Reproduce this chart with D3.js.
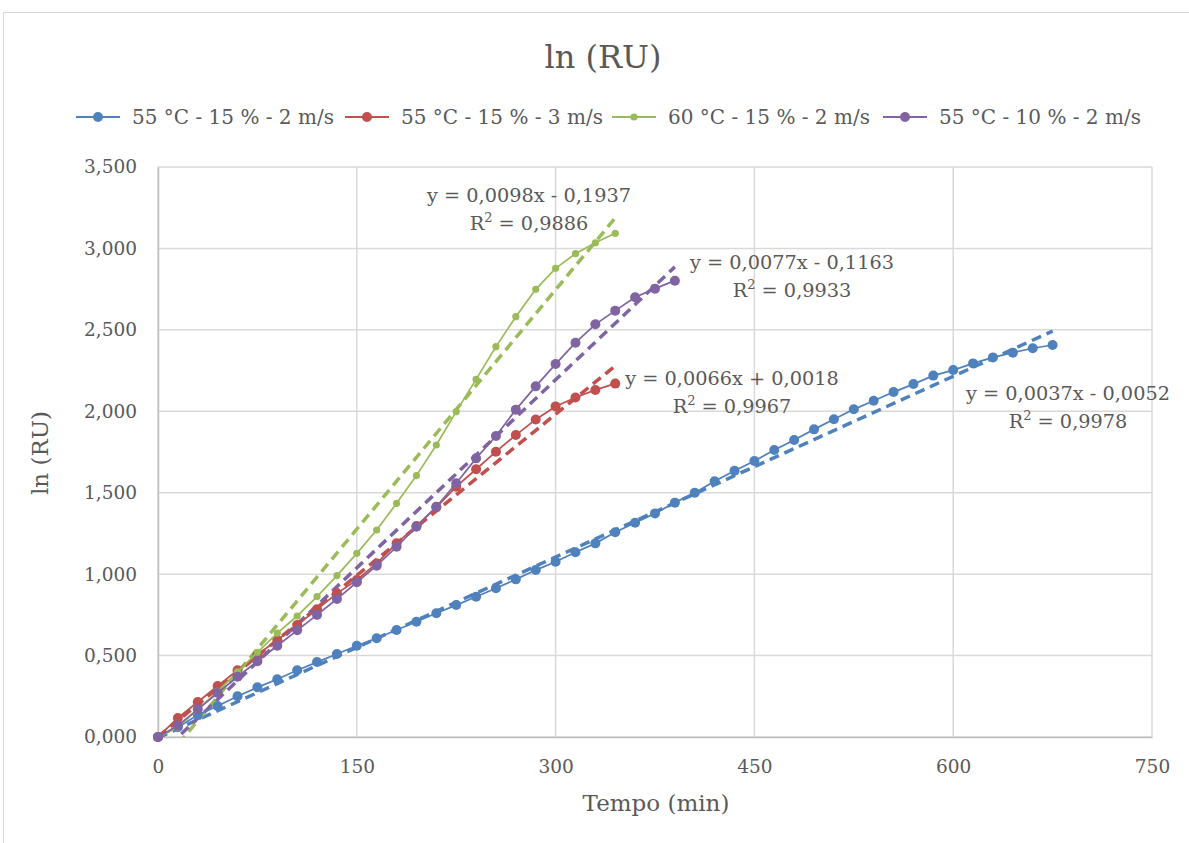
<!DOCTYPE html>
<html>
<head>
<meta charset="utf-8">
<script src="https://cdn.jsdelivr.net/npm/d3@7"></script>
<style>
  html, body { margin: 0; padding: 0; background: #fff; }
  svg { display: block; }
  text { font-family: "DejaVu Serif", "Liberation Serif", serif; fill: #595959; }
</style>
</head>
<body>
<svg id="chart" width="1189" height="843"></svg>
<script>
// Time axis (minutes), one reading every 15 min
const timesBlue   = d3.range(0, 676, 15);   // 0 … 675
const timesRed    = d3.range(0, 346, 15);   // 0 … 345
const timesGreen  = d3.range(0, 346, 15);   // 0 … 345
const timesPurple = d3.range(0, 391, 15);   // 0 … 390

// ln(RU) readings
const lnBlue = [0, 0.06, 0.135, 0.19, 0.25, 0.305, 0.355, 0.41, 0.46, 0.51,
  0.56, 0.606, 0.657, 0.708, 0.76, 0.81, 0.861, 0.913, 0.968, 1.025,
  1.076, 1.134, 1.189, 1.257, 1.316, 1.373, 1.439, 1.50, 1.57, 1.635,
  1.695, 1.762, 1.824, 1.889, 1.951, 2.012, 2.065, 2.118, 2.167, 2.219,
  2.253, 2.294, 2.331, 2.36, 2.387, 2.407];
const lnRed = [0, 0.117, 0.215, 0.313, 0.41, 0.505, 0.596, 0.688, 0.784, 0.882,
  0.964, 1.066, 1.189, 1.296, 1.41, 1.537, 1.644, 1.752, 1.854, 1.95,
  2.03, 2.085, 2.131, 2.17];
const lnGreen = [0, 0.06, 0.17, 0.28, 0.40, 0.52, 0.638, 0.743, 0.862, 0.991,
  1.128, 1.271, 1.435, 1.605, 1.793, 1.998, 2.196, 2.397, 2.581, 2.749,
  2.878, 2.968, 3.035, 3.093];
const lnPurple = [0, 0.07, 0.17, 0.27, 0.37, 0.465, 0.56, 0.655, 0.75, 0.847,
  0.95, 1.052, 1.168, 1.291, 1.414, 1.558, 1.711, 1.848, 2.01, 2.153,
  2.29, 2.421, 2.534, 2.618, 2.70, 2.753, 2.802];

const seriesNames = ["55 °C - 15 % - 2 m/s", "55 °C - 15 % - 3 m/s",
                     "60 °C - 15 % - 2 m/s", "55 °C - 10 % - 2 m/s"];

// Linear fits (slope, intercept, R²)
const fitSlopes     = [0.0037, 0.0066, 0.0098, 0.0077];
const fitIntercepts = [-0.0052, 0.0018, -0.1937, -0.1163];
const fitR2         = ["0,9978", "0,9967", "0,9886", "0,9933"];
const fitEquations  = ["y = 0,0037x - 0,0052", "y = 0,0066x + 0,0018",
                       "y = 0,0098x - 0,1937", "y = 0,0077x - 0,1163"];

const xTickValues = [0, 150, 300, 450, 600, 750];
const yTickValues = [0, 0.5, 1, 1.5, 2, 2.5, 3, 3.5];

const colors = ["#4F81BD", "#C0504D", "#9BBB59", "#8064A2"];
const markerR = [5, 5, 3.6, 5];

const series = [
  { name: seriesNames[0], xs: timesBlue,   ys: lnBlue },
  { name: seriesNames[1], xs: timesRed,    ys: lnRed },
  { name: seriesNames[2], xs: timesGreen,  ys: lnGreen },
  { name: seriesNames[3], xs: timesPurple, ys: lnPurple }
];

const svg = d3.select("#chart");
const plot = { left: 158, right: 1152, top: 167, bottom: 737 };

const x = d3.scaleLinear().domain([0, 750]).range([plot.left, plot.right]);
const y = d3.scaleLinear().domain([0, 3.5]).range([plot.bottom, plot.top]);

const ptLocale = d3.formatLocale({ decimal: ",", thousands: ".", grouping: [3], currency: ["", ""] });
const fmtY = ptLocale.format(".3f");

// Outer chart frame
svg.append("rect")
  .attr("x", 3.5).attr("y", 12.5).attr("width", 1200).attr("height", 900)
  .attr("fill", "none").attr("stroke", "#d9d9d9").attr("stroke-width", 1);

// Title
svg.append("text")
  .attr("x", 603).attr("y", 68).attr("text-anchor", "middle")
  .style("font-size", "32px").text("ln (RU)");

// Gridlines
const grid = svg.append("g");
grid.selectAll("line.h").data(yTickValues).join("line")
  .attr("x1", plot.left).attr("x2", plot.right)
  .attr("y1", d => y(d)).attr("y2", d => y(d))
  .attr("stroke", "#d9d9d9").attr("stroke-width", 1.5);
grid.selectAll("line.v").data(xTickValues).join("line")
  .attr("y1", plot.top).attr("y2", plot.bottom)
  .attr("x1", d => x(d)).attr("x2", d => x(d))
  .attr("stroke", "#d9d9d9").attr("stroke-width", 1.5);

// Axes
const xAxis = svg.append("g").attr("transform", `translate(0,${plot.bottom})`)
  .call(d3.axisBottom(x).tickValues(xTickValues).tickSize(0).tickPadding(23).tickFormat(d3.format("d")));
const yAxis = svg.append("g").attr("transform", `translate(${plot.left},0)`)
  .call(d3.axisLeft(y).tickValues(yTickValues).tickSize(0).tickPadding(21).tickFormat(fmtY));
[xAxis, yAxis].forEach(a => {
  a.select(".domain").attr("stroke", "#bfbfbf").attr("stroke-width", 1.5);
  a.selectAll("text").style("font-size", "18.5px").attr("fill", "#595959")
    .style("font-family", "\"DejaVu Serif\", serif");
});

// Axis titles
svg.append("text").attr("x", 656).attr("y", 811).attr("text-anchor", "middle")
  .style("font-size", "23px").text("Tempo (min)");
svg.append("text").attr("transform", "translate(48,453) rotate(-90)")
  .attr("text-anchor", "middle").style("font-size", "23px").text("ln (RU)");

// Clip for trend lines
svg.append("clipPath").attr("id", "plotClip").append("rect")
  .attr("x", plot.left).attr("y", plot.top)
  .attr("width", plot.right - plot.left).attr("height", plot.bottom - plot.top);

const line = d3.line().x(d => x(d[0])).y(d => y(d[1]));

// Trend lines (dashed) drawn from the fitted equations
const trends = svg.append("g").attr("clip-path", "url(#plotClip)");
series.forEach((s, i) => {
  const xmax = d3.max(s.xs);
  const pts = [0, xmax].map(t => [t, fitSlopes[i] * t + fitIntercepts[i]]);
  trends.append("path").attr("d", line(pts))
    .attr("fill", "none").attr("stroke", colors[i])
    .attr("stroke-width", 3.5).attr("stroke-dasharray", "10,6");
});

// Data series: lines + markers
series.forEach((s, i) => {
  const pts = s.xs.map((t, k) => [t, s.ys[k]]);
  const g = svg.append("g");
  g.append("path").attr("d", line(pts)).attr("fill", "none")
    .attr("stroke", colors[i]).attr("stroke-width", 1.75);
  g.selectAll("circle").data(pts).join("circle")
    .attr("cx", d => x(d[0])).attr("cy", d => y(d[1]))
    .attr("r", markerR[i]).attr("fill", colors[i]);
});

// Trend equations
const eqPos = [
  { cx: 1068, y1: 400, y2: 428 },
  { cx: 732,  y1: 385, y2: 413 },
  { cx: 529,  y1: 202, y2: 230 },
  { cx: 792,  y1: 269, y2: 297 }
];
eqPos.forEach((p, i) => {
  svg.append("text").attr("x", p.cx).attr("y", p.y1).attr("text-anchor", "middle")
    .style("font-size", "19.3px").text(fitEquations[i]);
  const t = svg.append("text").attr("x", p.cx).attr("y", p.y2).attr("text-anchor", "middle")
    .style("font-size", "19.3px");
  t.append("tspan").text("R");
  t.append("tspan").attr("dy", -8).style("font-size", "13px").text("2");
  t.append("tspan").attr("dy", 8).text(" = " + fitR2[i]);
});

// Legend
const legendX = [76, 345, 612, 883];
const legend = svg.append("g");
series.forEach((s, i) => {
  const lx = legendX[i], ly = 117;
  legend.append("line").attr("x1", lx).attr("x2", lx + 44).attr("y1", ly).attr("y2", ly)
    .attr("stroke", colors[i]).attr("stroke-width", 2);
  legend.append("circle").attr("cx", lx + 22).attr("cy", ly).attr("r", markerR[i]).attr("fill", colors[i]);
  legend.append("text").attr("x", lx + 56).attr("y", ly + 7)
    .style("font-size", "20px").text(s.name);
});
</script>
</body>
</html>
